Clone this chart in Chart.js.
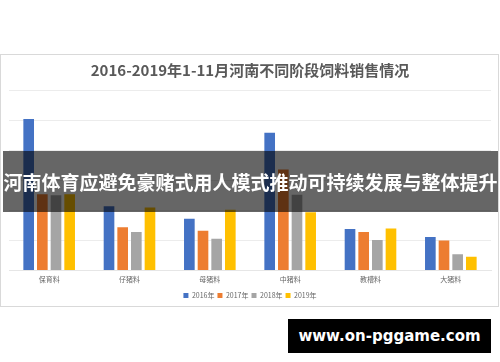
<!DOCTYPE html>
<html>
<head>
<meta charset="utf-8">
<script src="https://cdn.jsdelivr.net/npm/chart.js@4/dist/chart.umd.min.js"></script>
<style>
    body { margin: 0; background: #fff; width: 500px; height: 362px; overflow: hidden; position: relative; }
    #chart-box { position: absolute; left: 0; top: 54px; width: 497px; height: 251px; border: 1px solid #d9d9d9; }
    #banner { position: absolute; left: 3px; top: 151px; width: 495px; height: 61px; background: rgba(0,0,0,0.6);
        color: #fff; font: bold 19px "Noto Sans CJK SC", sans-serif; line-height: 61px; text-align: center; white-space: nowrap; }
    #mark { position: absolute; left: 288px; top: 319px; width: 203px; height: 34px; background: #000;
        color: #fff; font: bold 15px "DejaVu Sans", sans-serif; line-height: 34px; text-align: center; }
</style>
</head>
<body>
<div id="chart-box"><canvas id="bar-chart"></canvas></div>
<div id="banner">河南体育应避免豪赌式用人模式推动可持续发展与整体提升</div>
<div id="mark">www.on-pggame.com</div>
<script>
const chartTitle = "2016-2019年1-11月河南不同阶段饲料销售情况";
const categories = ["保育料", "仔猪料", "母猪料", "中猪料", "教槽料", "大猪料"];
const seriesNames = ["2016年", "2017年", "2018年", "2019年"];
const sales2016 = [252, 107, 86, 229, 69, 56];
const sales2017 = [127, 72, 66, 168, 64, 50];
const sales2018 = [125, 64, 53, 126, 51, 27];
const sales2019 = [127, 105, 101, 97, 70, 23];
const colors = ["#4472C4", "#ED7D31", "#A5A5A5", "#FFC000"];

const barChart = (elname) => {
    const ctx = document.getElementById(elname);
    const values = [sales2016, sales2017, sales2018, sales2019];
    new Chart(ctx, {
        type: "bar",
        data: {
            labels: categories,
            datasets: seriesNames.map((name, i) => ({
                label: name,
                data: values[i],
                backgroundColor: colors[i],
                categoryPercentage: 0.68,
                barPercentage: 0.78
            }))
        },
        options: {
            responsive: true,
            maintainAspectRatio: false,
            animation: false,
            layout: { padding: { left: 8, right: 7, top: 0, bottom: -3 } },
            plugins: {
                title: {
                    display: true,
                    text: chartTitle,
                    color: "#595959",
                    font: { size: 15, weight: "bold", family: "'Noto Sans CJK SC', sans-serif" },
                    padding: { top: 6, bottom: 11 }
                },
                legend: {
                    position: "bottom",
                    labels: {
                        boxWidth: 5,
                        boxHeight: 5,
                        padding: 3,
                        color: "#666",
                        font: { size: 7, family: "'Noto Sans CJK SC', sans-serif" }
                    }
                },
                tooltip: { enabled: false }
            },
            scales: {
                x: {
                    grid: { display: false, drawTicks: false },
                    border: { color: "#e6e6e6" },
                    ticks: { color: "#666", padding: 5, font: { size: 7, family: "'Noto Sans CJK SC', sans-serif" } }
                },
                y: {
                    min: 0,
                    max: 300,
                    ticks: { display: false, stepSize: 50 },
                    border: { display: false },
                    grid: { color: "#ececec", drawTicks: false }
                }
            }
        }
    });
}

barChart("bar-chart");
</script>
</body>
</html>
